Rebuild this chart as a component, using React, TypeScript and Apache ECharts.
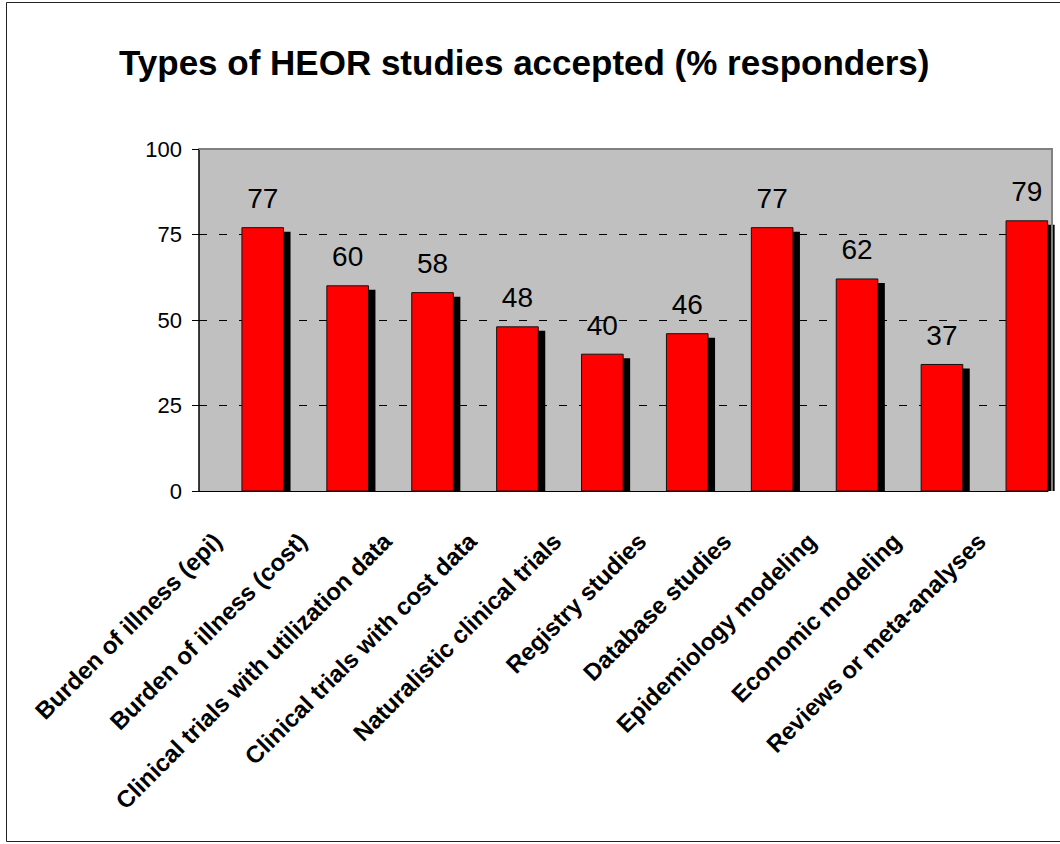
import React, { useEffect, useRef } from "react";
import * as echarts from "echarts";

const titleText = "Types of HEOR studies accepted (% responders)";
const categories = [
  "Burden of illness (epi)",
  "Burden of illness (cost)",
  "Clinical trials with utilization data",
  "Clinical trials with cost data",
  "Naturalistic clinical trials",
  "Registry studies",
  "Database studies",
  "Epidemiology modeling",
  "Economic modeling",
  "Reviews or meta-analyses",
];
const values = [77, 60, 58, 48, 40, 46, 77, 62, 37, 79];
const yTicks = { min: 0, max: 100, interval: 25 };

const FONT = '"Liberation Sans", Arial, sans-serif';

export default function App() {
  const ref = useRef<HTMLDivElement>(null);
  useEffect(() => {
    document.body.style.margin = "0";
    const chart = echarts.init(ref.current!, null, { renderer: "svg" });
    const option: any = {
      animation: false,
      backgroundColor: "#ffffff",
      title: {
        text: titleText,
        left: 114,
        top: 40,
        textStyle: { fontSize: 35, fontWeight: "bold", fontFamily: FONT, color: "#000" },
      },
      graphic: [
        {
          type: "rect",
          z: -10,
          shape: { x: 6.5, y: 2.5, width: 1100, height: 839 },
          style: { fill: "#fff", stroke: "#222", lineWidth: 1 },
        },
        {
          type: "rect",
          z: -9,
          shape: { x: 199, y: 149, width: 853, height: 342 },
          style: { fill: "#c0c0c0" },
        },
        {
          type: "polyline",
          z: 10,
          shape: { points: [[199, 149], [1052, 149], [1052, 491]] },
          style: { stroke: "#808080", lineWidth: 2, fill: null },
        },
      ],
      grid: [
        { left: 199, top: 149, width: 849, height: 342, containLabel: false },
        { left: 175, top: 149, width: 849, height: 342, containLabel: false },
      ],
      xAxis: [
        {
          type: "category",
          gridIndex: 0,
          data: categories,
          axisLine: { show: true, lineStyle: { color: "#000", width: 1 } },
          axisTick: { show: false },
          axisLabel: { show: false },
          splitLine: { show: false },
        },
        {
          type: "category",
          gridIndex: 1,
          data: categories,
          axisLine: { show: false },
          axisTick: { show: false },
          splitLine: { show: false },
          axisLabel: {
            show: true,
            interval: 0,
            rotate: 45,
            margin: 46,
            fontSize: 24,
            fontWeight: "bold",
            fontFamily: FONT,
            color: "#000",
          },
        },
      ],
      yAxis: [
        {
          type: "value",
          gridIndex: 0,
          min: yTicks.min,
          max: yTicks.max,
          interval: yTicks.interval,
          axisLine: { show: true, lineStyle: { color: "#000", width: 1.5 } },
          axisTick: { show: true, length: 7, lineStyle: { color: "#000" } },
          axisLabel: { fontSize: 22, fontFamily: FONT, color: "#000", margin: 17 },
          splitLine: { show: true, lineStyle: { color: "#000", width: 1, type: [8, 12] } },
        },
        {
          type: "value",
          gridIndex: 1,
          min: 0,
          max: 1,
          show: false,
        },
      ],
      series: [
        {
          type: "custom",
          xAxisIndex: 0,
          yAxisIndex: 0,
          data: values.map((v, i) => [i, v]),
          encode: { x: 0, y: 1 },
          renderItem: (params: any, api: any) => {
            const idx = api.value(0);
            const v = api.value(1);
            const top = api.coord([idx, v]);
            const base = api.coord([idx, 0]);
            const band = api.size([1, 0])[0];
            const w = band * 0.49;
            const x = top[0] + 0.5;
            const h = base[1] - top[1];
            return {
              type: "group",
              children: [
                {
                  type: "rect",
                  shape: { x: x + 7, y: top[1] + 4, width: w, height: h - 4 },
                  style: { fill: "#000" },
                },
                {
                  type: "rect",
                  shape: { x: x, y: top[1], width: w, height: h },
                  style: { fill: "#ff0000", stroke: "#111", lineWidth: 1 },
                },
                {
                  type: "text",
                  style: {
                    text: String(v),
                    x: x + w / 2,
                    y: top[1] - 15,
                    align: "center",
                    verticalAlign: "bottom",
                    fontSize: 28,
                    fontFamily: FONT,
                    fill: "#000",
                  },
                },
              ],
            };
          },
        },
      ],
    };
    chart.setOption(option);
    return () => chart.dispose();
  }, []);
  return (
    <div
      ref={ref}
      style={{ position: "absolute", left: 0, top: 0, width: 1060, height: 844 }}
    />
  );
}
